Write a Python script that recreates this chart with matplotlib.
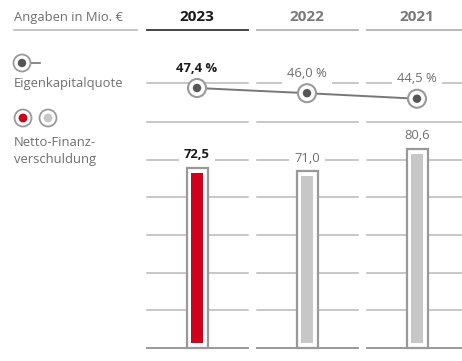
import matplotlib.pyplot as plt
from matplotlib.patches import Rectangle, Circle

plt.rcParams['font.family'] = ['Open Sans', 'DejaVu Sans']

# figures in Mio. EUR and percent
years = ['2023', '2022', '2021']
equity_ratio = [47.4, 46.0, 44.5]
net_debt = [72.5, 71.0, 80.6]
ratio_labels = ['47,4 %', '46,0 %', '44,5 %']
debt_labels = ['72,5', '71,0', '80,6']

RED = '#d0021b'
BAR_GREY = '#c6c7c6'
LINE_GREY = '#b8b8b8'
DARK = '#555555'
TEXT_GREY = '#6f6f6f'

# layout in pixels (y grows downward)
W, H = 462, 361
col_x = [197, 307, 417]
col_half = 50.5
grid_y = [83, 122, 160, 197, 235, 273, 310]
base_y = 348
bar_zero = 343
bar_px = 2.35          # pixels per Mio. EUR
ratio_ref, ratio_y, ratio_px = 47.4, 88, 3.7

fig = plt.figure(figsize=(W / 100, H / 100), dpi=100)
ax = fig.add_axes([0, 0, 1, 1])
ax.set_xlim(0, W)
ax.set_ylim(H, 0)
ax.axis('off')

# header
ax.text(14, 17, 'Angaben in Mio. €', fontsize=9.4, color=TEXT_GREY, va='center', ha='left')
ax.plot([14, 137], [30, 30], color=LINE_GREY, lw=1.2)
for i, (cx, yr) in enumerate(zip(col_x, years)):
    bold_now = i == 0
    ax.text(cx, 17, yr, fontsize=11, fontweight='bold', ha='center', va='center',
            color='#1a1a1a' if bold_now else '#7a7a7a')
    ax.plot([cx - col_half, min(cx + col_half, W)], [30, 30],
            color='#444444' if bold_now else LINE_GREY, lw=1.4)

# grid lines per column
for cx in col_x:
    x0, x1 = cx - col_half, min(cx + col_half, W)
    for gy in grid_y:
        ax.plot([x0, x1], [gy, gy], color=LINE_GREY, lw=1.1, zorder=1)
    ax.plot([x0, x1], [base_y, base_y], color='#999999', lw=1.4, zorder=1)

# net debt bars
for i, (cx, v, lab) in enumerate(zip(col_x, net_debt, debt_labels)):
    h = v * bar_px
    ax.add_patch(Rectangle((cx - 10.5, bar_zero + 5), 21, -(h + 10), facecolor='white',
                           edgecolor='#999999', lw=1.6, zorder=3))
    ax.bar(cx, -h, bottom=bar_zero, width=12, color=RED if i == 0 else BAR_GREY, zorder=4)
    ax.text(cx, bar_zero - h - 18, lab, fontsize=9.4, ha='center', va='center',
            fontweight='bold' if i == 0 else 'normal', color='#1a1a1a' if i == 0 else TEXT_GREY,
            bbox=dict(facecolor='white', edgecolor='none', pad=3.5), zorder=5)

# equity ratio line
ry = [ratio_y + (ratio_ref - v) * ratio_px for v in equity_ratio]
ax.plot(col_x, ry, color='#777777', lw=1.4, zorder=5)
for i, (cx, y, lab) in enumerate(zip(col_x, ry, ratio_labels)):
    ax.add_patch(Circle((cx, y), 9, facecolor='white', edgecolor='#9a9a9a', lw=1.5, zorder=6))
    ax.add_patch(Circle((cx, y), 4.2, facecolor=DARK, edgecolor='none', zorder=7))
    ax.text(cx, y - 20, lab, fontsize=9.4, ha='center', va='center',
            fontweight='bold' if i == 0 else 'normal', color='#1a1a1a' if i == 0 else TEXT_GREY,
            bbox=dict(facecolor='white', edgecolor='none', pad=3.5), zorder=5)

# legend
ax.plot([22, 40], [63, 63], color='#777777', lw=1.2, zorder=1)
ax.add_patch(Circle((22, 63), 8.5, facecolor='white', edgecolor='#9a9a9a', lw=1.3, zorder=2))
ax.add_patch(Circle((22, 63), 4.2, facecolor=DARK, edgecolor='none', zorder=3))
ax.text(14, 84, 'Eigenkapitalquote', fontsize=9.4, color=TEXT_GREY, va='center', ha='left')

for lx, c in [(23, RED), (48, BAR_GREY)]:
    ax.add_patch(Circle((lx, 118), 8.5, facecolor='white', edgecolor='#9a9a9a', lw=1.3, zorder=2))
    ax.add_patch(Circle((lx, 118), 4.4, facecolor=c, edgecolor='none', zorder=3))
ax.text(14, 143, 'Netto-Finanz-', fontsize=9.4, color=TEXT_GREY, va='center', ha='left')
ax.text(14, 160, 'verschuldung', fontsize=9.4, color=TEXT_GREY, va='center', ha='left')

fig.savefig('out.png', dpi=100)
